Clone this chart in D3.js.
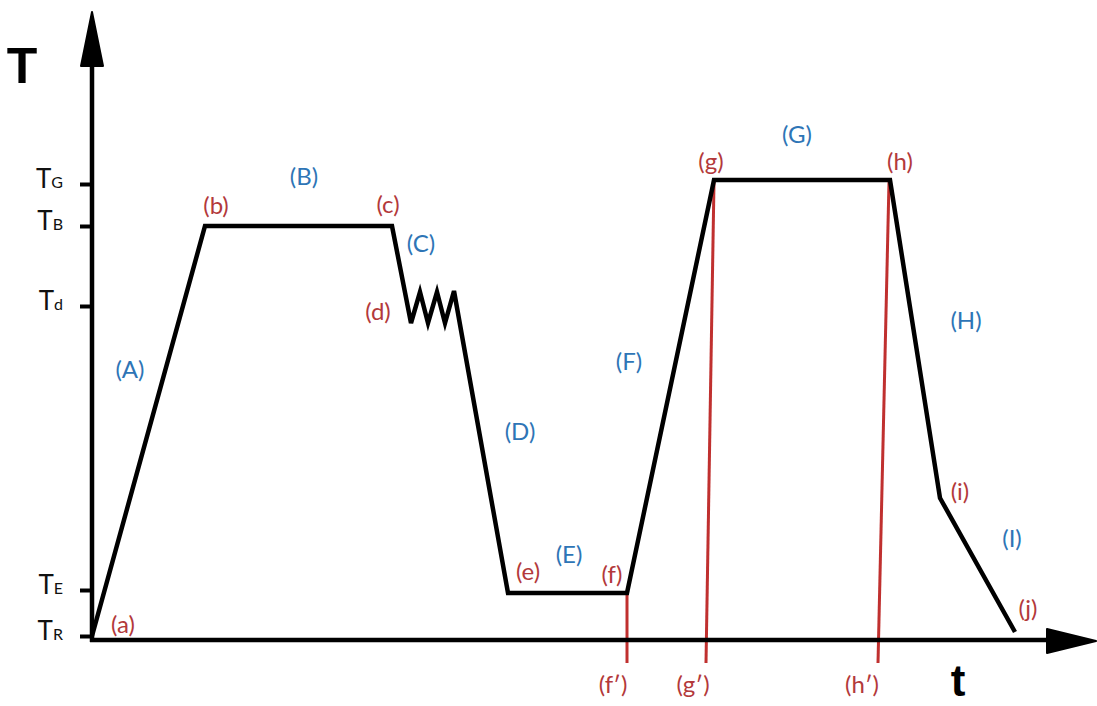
<!DOCTYPE html>
<html>
<head>
<meta charset="utf-8">
<script src="https://cdn.jsdelivr.net/npm/d3@7"></script>
<style>
  html, body { margin: 0; padding: 0; background: #fff; }
  svg { display: block; }
</style>
</head>
<body>
<div id="chart"></div>
<script>
// time (t) and temperature (T) of the heat-treatment profile, in chart units
const curveTime = [0, 11.3, 30.0, 31.9, 32.8, 33.6, 34.5, 35.3, 36.2, 41.6, 53.5, 62.2, 79.8, 84.8, 92.3];
const curveTemp = [0, 82, 82, 62.6, 68.8, 62.6, 68.8, 62.6, 69.0, 8.6, 8.6, 91.2, 91.2, 27.6, 0.8];

// red reference lines dropped to the time axis
const dropStartTime = [53.5, 62.2, 79.7];
const dropStartTemp = [8.6, 90.8, 90.8];
const dropEndTime = [53.5, 61.4, 78.6];
const dropEndTemp = -5.4;

// temperature levels on the vertical axis
const tickValues = [0, 9.2, 66, 82, 90.4];
const tickSubs = ["R", "E", "d", "B", "G"];

// point labels (red) and stage labels (blue), anchored in chart units
const pointLabels = ["(a)", "(b)", "(c)", "(d)", "(e)", "(f)", "(f\u2032)", "(g)", "(g\u2032)", "(h)", "(h\u2032)", "(i)", "(j)"];
const pointLabelTime = [3.1, 12.4, 29.6, 28.6, 43.6, 52.0, 52.1, 61.9, 60.1, 80.8, 77.0, 86.8, 93.6];
const pointLabelTemp = [2.6, 86.4, 86.6, 65.2, 13.2, 12.6, -9.4, 95.2, -9.4, 95.2, -9.4, 29.2, 5.8];

const stageLabels = ["(A)", "(B)", "(C)", "(D)", "(E)", "(F)", "(G)", "(H)", "(I)"];
const stageLabelTime = [3.8, 21.2, 32.9, 42.8, 47.7, 53.7, 70.5, 87.4, 92.0];
const stageLabelTemp = [53.6, 92.2, 78.8, 41.2, 16.6, 55.2, 100.6, 63.4, 19.8];

const W = 1097, H = 706;
const RED_TEXT = "#b3393b", RED_LINE = "#c0302f", BLUE = "#2e75b6";
const FONT = "Lato, 'Open Sans', sans-serif";

const x = d3.scaleLinear().domain([0, 100]).range([92, 1092]);
const y = d3.scaleLinear().domain([0, 100]).range([636, 136]);

const svg = d3.select("#chart").append("svg")
    .attr("width", W)
    .attr("height", H);

const axisY = 640;

// red drop lines
svg.append("g").selectAll("line")
    .data(dropStartTime)
    .enter().append("line")
    .attr("x1", (d, i) => x(d))
    .attr("y1", (d, i) => y(dropStartTemp[i]))
    .attr("x2", (d, i) => x(dropEndTime[i]))
    .attr("y2", y(dropEndTemp))
    .attr("stroke", RED_LINE)
    .attr("stroke-width", 3);

// axes
svg.append("line")
    .attr("x1", x(0)).attr("y1", axisY + 2)
    .attr("x2", x(0)).attr("y2", 60)
    .attr("stroke", "#000").attr("stroke-width", 4.5);
svg.append("path")
    .attr("d", `M${x(0)},12 L${x(0) + 11},66 L${x(0) - 11},66 Z`)
    .attr("fill", "#000").attr("stroke", "#000").attr("stroke-width", 2).attr("stroke-linejoin", "round");

svg.append("line")
    .attr("x1", x(0) - 2).attr("y1", axisY)
    .attr("x2", 1050).attr("y2", axisY)
    .attr("stroke", "#000").attr("stroke-width", 4.5);
svg.append("path")
    .attr("d", `M1096,${axisY + 1} L1047,${axisY - 11} L1047,${axisY + 13} Z`)
    .attr("fill", "#000").attr("stroke", "#000").attr("stroke-width", 2).attr("stroke-linejoin", "round");

// temperature ticks
const yAxis = svg.append("g")
    .attr("transform", `translate(${x(0)},0)`)
    .call(d3.axisLeft(y).tickValues(tickValues).tickSize(12).tickFormat(""));
yAxis.select(".domain").remove();
yAxis.selectAll(".tick line").attr("stroke", "#000").attr("stroke-width", 4);
yAxis.selectAll(".tick text")
    .attr("x", -29)
    .attr("dy", "0.36em")
    .attr("text-anchor", "end")
    .style("font-family", FONT)
    .style("fill", "#111")
    .each(function(d, i) {
        const t = d3.select(this);
        t.append("tspan").style("font-size", "26px").text("T");
        t.append("tspan").style("font-size", "16px").text(tickSubs[i]);
    });

// profile curve
const line = d3.line()
    .x(d => x(d[0]))
    .y(d => y(d[1]));
svg.append("path")
    .datum(curveTime.map((t, i) => [t, curveTemp[i]]))
    .attr("d", line)
    .attr("fill", "none")
    .attr("stroke", "#000")
    .attr("stroke-width", 4.5)
    .attr("stroke-linejoin", "miter");

// labels
svg.append("g").selectAll("text")
    .data(pointLabels)
    .enter().append("text")
    .attr("x", (d, i) => x(pointLabelTime[i]))
    .attr("y", (d, i) => y(pointLabelTemp[i]))
    .attr("text-anchor", "middle")
    .attr("dominant-baseline", "central")
    .style("font-family", FONT)
    .style("font-size", "24px")
    .style("fill", RED_TEXT)
    .text(d => d);

svg.append("g").selectAll("text")
    .data(stageLabels)
    .enter().append("text")
    .attr("x", (d, i) => x(stageLabelTime[i]))
    .attr("y", (d, i) => y(stageLabelTemp[i]))
    .attr("text-anchor", "middle")
    .attr("dominant-baseline", "central")
    .style("font-family", FONT)
    .style("font-size", "24px")
    .style("fill", BLUE)
    .text(d => d);

// axis titles
svg.append("text")
    .attr("x", 22).attr("y", 83)
    .attr("text-anchor", "middle")
    .style("font-family", "'Liberation Sans', Arial, sans-serif")
    .style("font-weight", "bold")
    .style("font-size", "50px")
    .text("T");

svg.append("text")
    .attr("x", 958).attr("y", 696)
    .attr("text-anchor", "middle")
    .style("font-family", "'Liberation Sans', Arial, sans-serif")
    .style("font-weight", "bold")
    .style("font-size", "44px")
    .text("t");
</script>
</body>
</html>
